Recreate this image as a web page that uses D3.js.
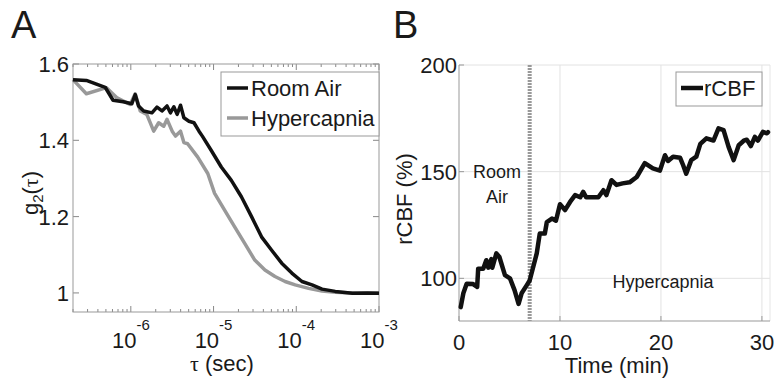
<!DOCTYPE html>
<html>
<head>
<meta charset="utf-8">
<script src="https://d3js.org/d3.v7.min.js"></script>
<style>
  body { margin: 0; background: #fff; }
  text { font-family: "Liberation Sans", Arial, sans-serif; fill: #1a1a1a; }
</style>
</head>
<body>
<div id="chart"></div>
<script>
// ---- panel A data: g2(tau) curves ----
var tauRoom = [2.0e-7, 2.9e-7, 4.9e-7, 6.1e-7, 8.1e-7, 1.03e-6, 1.13e-6, 1.24e-6, 1.43e-6, 1.80e-6,
  2.07e-6, 2.38e-6, 2.74e-6, 3.01e-6, 3.31e-6, 3.63e-6, 3.99e-6, 4.38e-6, 5.04e-6, 5.80e-6,
  6.67e-6, 7.32e-6, 9.35e-6, 1.24e-5, 1.64e-5, 2.17e-5, 2.88e-5, 3.80e-5, 5.04e-5, 6.67e-5,
  8.83e-5, 1.17e-4, 1.55e-4, 2.05e-4, 2.96e-4, 4.77e-4, 7.26e-4, 1.0e-3];
var g2Room = [1.559, 1.557, 1.539, 1.505, 1.501, 1.496, 1.52, 1.49, 1.477, 1.472,
  1.487, 1.477, 1.49, 1.472, 1.488, 1.468, 1.492, 1.459, 1.45, 1.446,
  1.424, 1.411, 1.374, 1.33, 1.295, 1.252, 1.2, 1.147, 1.112, 1.078,
  1.052, 1.03, 1.021, 1.01, 1.004, 0.999, 1.0, 0.999];

var tauHyper = [2.0e-7, 2.9e-7, 5.08e-7, 6.73e-7, 9.8e-7, 1.13e-6, 1.30e-6, 1.56e-6, 1.89e-6, 2.17e-6,
  2.50e-6, 2.74e-6, 3.16e-6, 3.47e-6, 3.99e-6, 4.38e-6, 4.86e-6, 6.44e-6, 8.52e-6, 1.03e-5,
  1.36e-5, 1.80e-5, 2.38e-5, 3.15e-5, 4.18e-5, 5.53e-5, 7.32e-5, 9.70e-5, 1.41e-4, 2.05e-4,
  2.96e-4, 4.77e-4, 7.26e-4, 1.0e-3];
var g2Hyper = [1.559, 1.522, 1.538, 1.512, 1.494, 1.522, 1.477, 1.468, 1.424, 1.446,
  1.437, 1.455, 1.424, 1.411, 1.424, 1.394, 1.391, 1.356, 1.313, 1.261,
  1.217, 1.173, 1.13, 1.086, 1.06, 1.043, 1.03, 1.021, 1.012, 1.005,
  1.002, 1.0, 0.999, 1.0];

var tauTicks = [1e-6, 1e-5, 1e-4, 1e-3];
var tauExps = ["-6", "-5", "-4", "-3"];
var g2Ticks = [1, 1.2, 1.4, 1.6];

// ---- panel B data: rCBF time course ----
var timeMin = [0.17, 0.43, 0.76, 1.4, 1.8, 1.9, 2.4, 2.7, 2.9, 3.2, 3.3, 3.7, 4.0, 4.55, 5.05, 5.5, 5.9, 6.2, 6.7, 7.0,
  7.7, 8.0, 8.5, 8.7, 9.2, 9.6, 10.0, 10.5, 11.0, 11.5, 12.0, 12.3, 12.6, 13.8, 14.3, 14.6, 15.1, 15.6, 16.2, 16.9,
  17.6, 18.4, 19.2, 19.9, 20.4, 20.7, 21.2, 21.9, 22.2, 22.5, 23.0, 23.5, 23.9, 24.5, 25.2, 25.7, 26.2, 26.7, 27.2, 27.7,
  28.2, 28.5, 28.9, 29.3, 29.6, 30.1, 30.5, 30.6];
var rcbf = [86.5, 93, 97.5, 97.3, 96, 104.5, 104.5, 108.5, 105, 109, 105, 111.7, 110, 101.5, 100, 94.5, 88, 93, 96.7, 99,
  111.7, 121, 121, 126.4, 128, 127, 134.7, 132, 135.8, 139, 138, 140.5, 138, 138, 141.3, 139, 146, 143.8, 144.5, 145,
  147.5, 154, 151.5, 150.5, 157.7, 155, 157, 156.5, 153, 149, 155.4, 157, 163, 165.6, 164.6, 170.3, 169.5, 161.6, 155.4, 162.4,
  164.5, 165, 162, 166.3, 164.6, 168.7, 168, 168.5];
var timeTicks = [0, 10, 20, 30];
var rcbfTicks = [100, 150, 200];
var switchTime = 7.0;

var FS = 22;

var svg = d3.select("#chart").append("svg")
  .attr("width", 776).attr("height", 384);

// ================= Panel A =================
var xA = d3.scaleLog().domain([2e-7, 1e-3]).range([73, 379]);
var yA = d3.scaleLinear().domain([0.95, 1.6]).range([312, 64]);

var gA = svg.append("g");

// minor ticks on log axis (top and bottom, inward)
var minors = [];
[1e-7, 1e-6, 1e-5, 1e-4].forEach(function(d) {
  for (var k = 2; k <= 9; k++) { var v = d * k; if (v >= 2e-7 && v < 1e-3) minors.push(v); }
});
gA.selectAll(".minorB").data(minors).enter().append("line")
  .attr("x1", d => xA(d)).attr("x2", d => xA(d))
  .attr("y1", 312).attr("y2", 309).attr("stroke", "#888");
gA.selectAll(".minorT").data(minors).enter().append("line")
  .attr("x1", d => xA(d)).attr("x2", d => xA(d))
  .attr("y1", 64).attr("y2", 67).attr("stroke", "#888");
gA.selectAll(".majB").data(tauTicks).enter().append("line")
  .attr("x1", d => xA(d)).attr("x2", d => xA(d))
  .attr("y1", 312).attr("y2", 306).attr("stroke", "#888");
gA.selectAll(".majT").data(tauTicks).enter().append("line")
  .attr("x1", d => xA(d)).attr("x2", d => xA(d))
  .attr("y1", 64).attr("y2", 70).attr("stroke", "#888");
gA.selectAll(".yL").data(g2Ticks).enter().append("line")
  .attr("x1", 73).attr("x2", 79).attr("y1", d => yA(d)).attr("y2", d => yA(d)).attr("stroke", "#888");
gA.selectAll(".yR").data(g2Ticks).enter().append("line")
  .attr("x1", 379).attr("x2", 373).attr("y1", d => yA(d)).attr("y2", d => yA(d)).attr("stroke", "#888");

gA.append("rect").attr("x", 73).attr("y", 64).attr("width", 306).attr("height", 248)
  .attr("fill", "none").attr("stroke", "#999");

// curves
var lineA = d3.line().x(d => xA(d[0])).y(d => yA(d[1]));
gA.append("path").datum(d3.zip(tauHyper, g2Hyper))
  .attr("d", lineA).attr("fill", "none").attr("stroke", "#999").attr("stroke-width", 3.5)
  .attr("stroke-linejoin", "round");
gA.append("path").datum(d3.zip(tauRoom, g2Room))
  .attr("d", lineA).attr("fill", "none").attr("stroke", "#111").attr("stroke-width", 3.5)
  .attr("stroke-linejoin", "round");

// tick labels
g2Ticks.forEach(function(t) {
  gA.append("text").attr("x", 69).attr("y", yA(t) + 8).attr("text-anchor", "end")
    .attr("font-size", FS).text(t === 1 ? "1" : t.toFixed(1));
});
tauTicks.forEach(function(t, i) {
  var tx = gA.append("text").attr("x", xA(t)).attr("y", 348).attr("text-anchor", "middle")
    .attr("font-size", FS);
  tx.append("tspan").text("10");
  tx.append("tspan").attr("dy", -18).attr("font-size", 15).text(tauExps[i]);
});

// axis titles
var xtA = gA.append("text").attr("x", 222).attr("y", 371).attr("text-anchor", "middle").attr("font-size", FS);
xtA.append("tspan").attr("font-family", "Liberation Serif, serif").text("τ");
xtA.append("tspan").text(" (sec)");

var ytA = gA.append("text").attr("transform", "translate(38,193) rotate(-90)")
  .attr("text-anchor", "middle").attr("font-size", FS);
ytA.append("tspan").text("g");
ytA.append("tspan").attr("dy", 5).attr("font-size", 15).text("2");
ytA.append("tspan").attr("dy", -5).text("(");
ytA.append("tspan").attr("font-family", "Liberation Serif, serif").text("τ");
ytA.append("tspan").text(")");

// legend A
gA.append("rect").attr("x", 221).attr("y", 72).attr("width", 158).attr("height", 64)
  .attr("fill", "#fff").attr("stroke", "#999");
gA.append("line").attr("x1", 227).attr("x2", 248).attr("y1", 88).attr("y2", 88)
  .attr("stroke", "#111").attr("stroke-width", 3.5);
gA.append("line").attr("x1", 227).attr("x2", 248).attr("y1", 118).attr("y2", 118)
  .attr("stroke", "#999").attr("stroke-width", 3.5);
gA.append("text").attr("x", 251).attr("y", 96).attr("font-size", FS).text("Room Air");
gA.append("text").attr("x", 251).attr("y", 126).attr("font-size", FS).text("Hypercapnia");

svg.append("text").attr("x", 11).attr("y", 38).attr("font-size", 38).text("A");

// ================= Panel B =================
var xB = d3.scaleLinear().domain([0, 30.8]).range([459, 770]);
var yB = d3.scaleLinear().domain([80, 200]).range([321, 65]);
var gB = svg.append("g");

// grid
gB.selectAll(".gx").data(timeTicks.filter(d => d > 0)).enter().append("line")
  .attr("x1", d => xB(d)).attr("x2", d => xB(d)).attr("y1", 65).attr("y2", 321)
  .attr("stroke", "#e2e2e2");
gB.selectAll(".gy").data(rcbfTicks).enter().append("line")
  .attr("x1", 459).attr("x2", 770).attr("y1", d => yB(d)).attr("y2", d => yB(d))
  .attr("stroke", "#e2e2e2");
gB.append("line").attr("x1", 770).attr("x2", 770).attr("y1", 65).attr("y2", 321).attr("stroke", "#e6e6e6");

// ticks
gB.selectAll(".tx").data(timeTicks).enter().append("line")
  .attr("x1", d => xB(d)).attr("x2", d => xB(d)).attr("y1", 321).attr("y2", 316).attr("stroke", "#999");
gB.selectAll(".ty").data(rcbfTicks).enter().append("line")
  .attr("x1", 459).attr("x2", 464).attr("y1", d => yB(d)).attr("y2", d => yB(d)).attr("stroke", "#999");

// axes lines
gB.append("line").attr("x1", 459).attr("x2", 459).attr("y1", 65).attr("y2", 321).attr("stroke", "#999");
gB.append("line").attr("x1", 459).attr("x2", 770).attr("y1", 321).attr("y2", 321).attr("stroke", "#999");

// switch marker
gB.append("line").attr("x1", xB(switchTime)).attr("x2", xB(switchTime)).attr("y1", 65).attr("y2", 321)
  .attr("stroke", "#999").attr("stroke-width", 4).attr("stroke-dasharray", "2,1");

// curve
var lineB = d3.line().x(d => xB(d[0])).y(d => yB(d[1]));
gB.append("path").datum(d3.zip(timeMin, rcbf))
  .attr("d", lineB).attr("fill", "none").attr("stroke", "#111").attr("stroke-width", 4.5)
  .attr("stroke-linejoin", "round").attr("stroke-linecap", "round");

// tick labels
rcbfTicks.forEach(function(t) {
  gB.append("text").attr("x", 457).attr("y", yB(t) + 8).attr("text-anchor", "end")
    .attr("font-size", FS).text(t);
});
timeTicks.forEach(function(t) {
  gB.append("text").attr("x", xB(t)).attr("y", 350).attr("text-anchor", "middle")
    .attr("font-size", FS).text(t);
});

gB.append("text").attr("x", 617).attr("y", 373).attr("text-anchor", "middle")
  .attr("font-size", FS).text("Time (min)");
gB.append("text").attr("transform", "translate(412,199) rotate(-90)")
  .attr("text-anchor", "middle").attr("font-size", FS).text("rCBF (%)");

// annotations
gB.append("text").attr("x", 497).attr("y", 178).attr("text-anchor", "middle").attr("font-size", 18).text("Room");
gB.append("text").attr("x", 497).attr("y", 203).attr("text-anchor", "middle").attr("font-size", 18).text("Air");
gB.append("text").attr("x", 663).attr("y", 288).attr("text-anchor", "middle").attr("font-size", 18).text("Hypercapnia");

// legend B
gB.append("rect").attr("x", 676).attr("y", 72).attr("width", 86).attr("height", 34)
  .attr("fill", "#fff").attr("stroke", "#999");
gB.append("line").attr("x1", 681).attr("x2", 703).attr("y1", 88).attr("y2", 88)
  .attr("stroke", "#111").attr("stroke-width", 4.5);
gB.append("text").attr("x", 704).attr("y", 96).attr("font-size", FS).text("rCBF");

svg.append("text").attr("x", 393).attr("y", 38).attr("font-size", 38).text("B");
</script>
</body>
</html>
